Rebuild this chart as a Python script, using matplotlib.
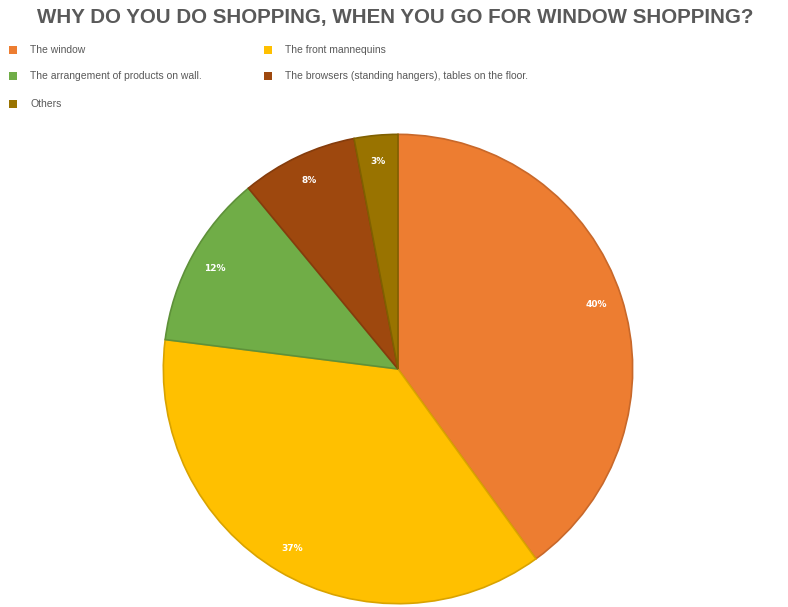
import matplotlib.pyplot as plt
from matplotlib.patches import Rectangle

# survey answers, clockwise from 12 o'clock
labels = ['The window', 'The front mannequins', 'The arrangement of products on wall.',
          'The browsers (standing hangers), tables on the floor.', 'Others']
shares = [40, 37, 12, 8, 3]
colors = ['#ED7D31', '#FFC000', '#70AD47', '#9E480E', '#997300']
edges = ['#C8682A', '#D9A300', '#5E9139', '#853C0C', '#806000']

fig = plt.figure(figsize=(7.88, 6.07), dpi=100)
W, H = 788, 607

fig.text(395 / W, 1 - 18 / H, 'WHY DO YOU DO SHOPPING, WHEN YOU GO FOR WINDOW SHOPPING?',
         ha='center', va='center', fontsize=14.8, fontweight='bold', color='#595959',
         family='Liberation Sans')

# legend, two columns
pos = [(13, 50), (268, 50), (13, 76), (268, 76), (13, 104)]
for (x, y), lab, c in zip(pos, labels, colors):
    fig.patches.append(Rectangle(((x - 4) / W, 1 - (y + 4) / H), 8 / W, 8 / H,
                                 transform=fig.transFigure, facecolor=c, edgecolor='none'))
    fig.text((x + 17) / W, 1 - y / H, lab, ha='left', va='center', fontsize=7.5,
             color='#595959', family='Liberation Sans')

cx, cy, r = 398, 369, 237
ax = fig.add_axes([(cx - r) / W, 1 - (cy + r) / H, 2 * r / W, 2 * r / H])
wedges, texts, autotexts = ax.pie(shares, colors=colors, startangle=90, counterclock=False,
                                  autopct='%d%%', pctdistance=0.89,
                                  wedgeprops=dict(linewidth=1.2),
                                  textprops=dict(color='white', fontsize=6.5, fontweight='bold'))
for w, e in zip(wedges, edges):
    w.set_edgecolor(e)
ax.set_xlim(-1.01, 1.01)
ax.set_ylim(-1.01, 1.01)
ax.set_aspect('equal')
ax.axis('off')

fig.savefig('out.png', dpi=100)
